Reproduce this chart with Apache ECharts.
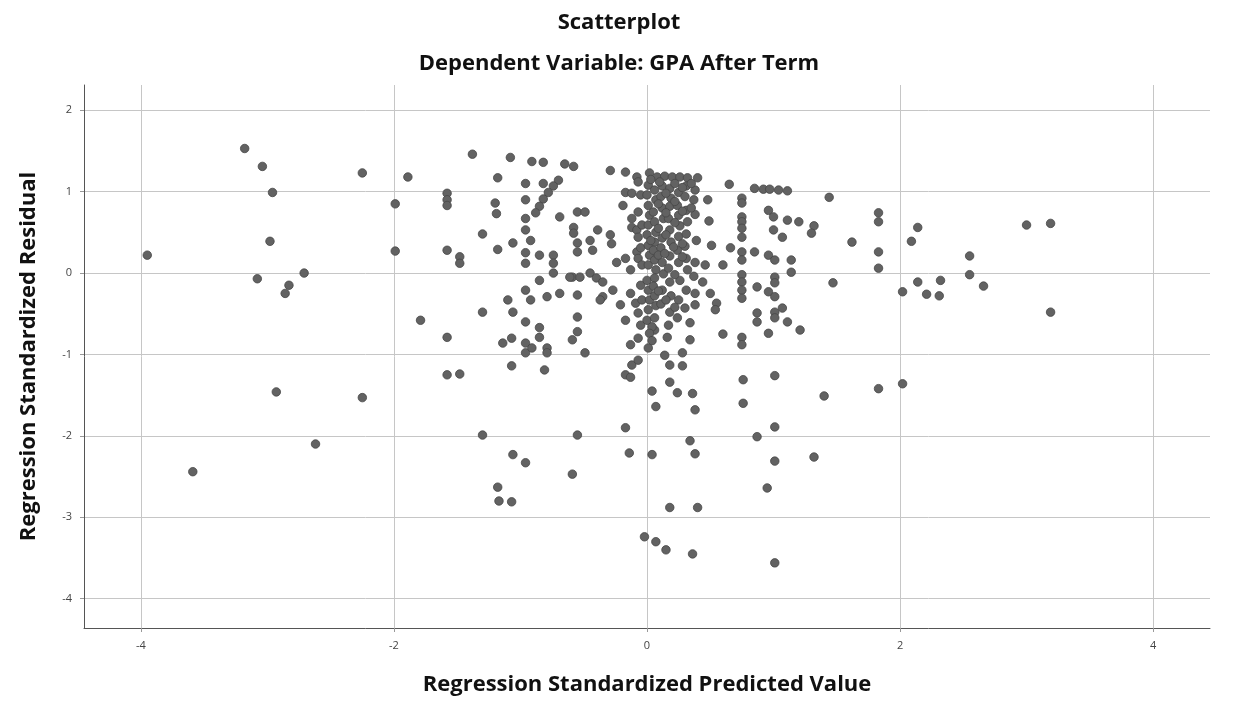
<!DOCTYPE html>
<html>
<head>
<meta charset="utf-8">
<title>Scatterplot</title>
<script src="https://cdn.jsdelivr.net/npm/echarts@6/dist/echarts.min.js"></script>
<style>
  html, body { margin: 0; padding: 0; background: #fff; }
  #chart { width: 1238px; height: 713px; }
</style>
</head>
<body>
<div id="chart"></div>
<script>
// standardized predicted value (x), standardized residual (y)
var leftPoints = [
  [-3.95, 0.22], [-3.59, -2.44], [-3.18, 1.53], [-3.04, 1.31], [-2.96, 0.99], [-2.98, 0.39],
  [-3.08, -0.07], [-2.86, -0.25], [-2.83, -0.15], [-2.71, 0.0], [-2.93, -1.46], [-2.62, -2.10],
  [-2.25, 1.23], [-2.25, -1.53], [-1.99, 0.85], [-1.99, 0.27], [-1.89, 1.18], [-1.79, -0.58],
  [-1.58, 0.98], [-1.58, 0.90], [-1.58, 0.83], [-1.58, 0.28], [-1.58, -0.79], [-1.58, -1.25],
  [-1.48, -1.24], [-1.48, 0.20], [-1.48, 0.12], [-1.38, 1.46], [-1.30, 0.48], [-1.30, -0.48],
  [-1.30, -1.99], [-1.20, 0.86], [-1.18, 1.17], [-1.19, 0.73], [-1.18, 0.29], [-1.18, -2.63],
  [-1.17, -2.80], [-1.08, 1.42], [-1.06, -2.23], [-1.07, -2.81], [-0.96, -2.33], [-1.07, -1.14],
  [-1.10, -0.33], [-1.06, 0.37], [-1.06, -0.48], [-1.14, -0.86], [-1.07, -0.80]
];
var midLeftPoints = [
  [-0.91, 1.37], [-0.82, 1.36], [-0.65, 1.34], [-0.58, 1.31], [-0.96, 1.10], [-0.82, 1.10],
  [-0.70, 1.14], [-0.74, 1.07], [-0.78, 0.99], [-0.82, 0.91], [-0.85, 0.82], [-0.88, 0.74],
  [-0.96, 0.90], [-0.69, 0.69], [-0.58, 0.56], [-0.58, 0.49], [-0.55, 0.37], [-0.55, 0.26],
  [-0.96, 0.67], [-0.96, 0.53], [-0.92, 0.40], [-0.96, 0.25], [-0.96, 0.12], [-0.85, 0.22],
  [-0.74, 0.22], [-0.74, 0.12], [-0.96, -0.21], [-0.92, -0.33], [-0.85, -0.09], [-0.74, 0.0],
  [-0.59, -0.05], [-0.79, -0.29], [-0.69, -0.25], [-0.55, -0.27], [-0.96, -0.60], [-0.85, -0.67],
  [-0.55, -0.54], [-0.96, -0.86], [-0.96, -0.98], [-0.91, -0.92], [-0.85, -0.79], [-0.79, -0.92],
  [-0.79, -0.98], [-0.59, -0.82], [-0.55, -0.72], [-0.81, -1.19], [-0.55, -1.99], [-0.59, -2.47],
  [-0.49, -0.98], [-0.55, 0.75], [-0.49, 0.75], [-0.45, 0.40], [-0.43, 0.28], [-0.61, -0.05],
  [-0.53, -0.05], [-0.45, 0.0], [-0.40, -0.06], [-0.35, -0.11], [-0.35, -0.29], [-0.39, 0.53],
  [-0.37, -0.33]
];
var centerPoints = [
  [-0.29, 1.26], [-0.17, 1.24], [-0.08, 1.18], [-0.07, 1.12], [0.02, 1.23], [0.08, 1.18],
  [0.14, 1.19], [0.20, 1.18], [0.26, 1.18], [0.32, 1.17], [0.40, 1.17], [-0.17, 0.99],
  [-0.12, 0.98], [-0.19, 0.83], [-0.07, 0.75], [-0.29, 0.47], [-0.12, 0.67], [-0.12, 0.56],
  [-0.08, 0.53], [-0.07, 0.44], [-0.17, 0.18], [-0.13, 0.04], [-0.08, 0.26], [-0.07, 0.18],
  [-0.13, -0.25], [-0.09, -0.37], [-0.07, -0.49], [-0.17, -0.58], [-0.28, 0.36], [-0.24, 0.13],
  [-0.27, -0.21], [-0.21, -0.39],
  [-0.05, 0.96], [-0.04, 0.59], [-0.05, 0.31], [-0.04, 0.10], [-0.05, -0.15], [-0.04, -0.33], [-0.05, -0.64],
  [0.01, 1.08], [0.00, 0.96], [0.01, 0.83], [0.02, 0.71], [0.01, 0.59], [0.00, 0.47], [0.01, 0.34],
  [0.02, 0.22], [0.01, 0.10], [0.00, -0.09], [0.01, -0.21], [0.02, -0.33], [0.01, -0.45], [0.00, -0.58],
  [0.06, 1.02], [0.07, 0.90], [0.05, 0.75], [0.06, 0.63], [0.07, 0.50], [0.06, 0.38], [0.05, 0.28],
  [0.06, 0.16], [0.07, 0.04], [0.06, -0.06], [0.05, -0.16], [0.06, -0.28], [0.07, -0.40], [0.06, -0.55],
  [0.06, -0.70],
  [0.12, 1.07], [0.11, 0.94], [0.12, 0.80], [0.13, 0.67], [0.12, 0.43], [0.11, 0.31], [0.12, 0.13],
  [0.13, -0.01], [0.12, -0.21], [0.11, -0.38],
  [0.18, 1.04], [0.19, 0.92], [0.18, 0.82], [0.17, 0.67], [0.18, 0.53], [0.19, 0.38], [0.18, 0.21],
  [0.17, 0.06], [0.18, -0.11], [0.19, -0.28], [0.18, -0.48], [0.17, -0.64],
  [0.25, 0.99], [0.24, 0.83], [0.25, 0.71], [0.26, 0.58], [0.25, 0.45], [0.24, 0.28], [0.25, 0.13],
  [0.26, -0.09], [0.25, -0.33], [0.24, -0.55],
  [0.31, 1.07], [0.30, 0.94], [0.31, 0.77], [0.32, 0.63], [0.31, 0.48], [0.30, 0.33], [0.31, 0.18],
  [0.32, 0.04], [0.31, -0.21], [0.30, -0.43],
  [0.38, 1.02], [0.37, 0.90], [0.38, 0.72], [0.39, 0.40], [0.38, 0.13], [0.37, -0.04], [0.38, -0.39],
  [0.03, 1.15], [0.10, 1.12], [0.22, 1.10], [0.28, 1.05], [0.35, 1.10], [0.15, 0.98],
  [0.22, 0.88], [0.09, 0.85], [0.28, 0.76], [0.35, 0.80], [0.15, 0.74], [0.09, 0.55],
  [0.22, 0.62], [0.15, 0.47], [0.28, 0.36], [0.21, 0.32], [0.09, 0.22], [0.14, 0.24],
  [0.03, 0.40], [0.22, -0.02], [0.28, 0.20], [0.09, -0.22], [0.15, -0.33], [0.22, -0.42],
  [0.04, -0.66],
  [-0.07, -0.80], [-0.13, -0.88], [-0.12, -1.13], [-0.07, -1.07], [-0.17, -1.25], [-0.13, -1.28],
  [0.02, -0.74], [0.04, -0.83], [0.01, -0.92], [0.16, -0.79], [0.34, -0.82], [0.14, -1.01],
  [0.18, -1.13], [0.28, -0.98], [0.28, -1.14], [0.18, -1.34], [0.04, -1.45], [0.24, -1.47],
  [0.36, -1.48], [0.07, -1.64], [0.38, -1.68], [-0.17, -1.90], [0.34, -2.06], [0.38, -2.22],
  [-0.14, -2.21], [0.04, -2.23], [0.18, -2.88], [0.40, -2.88], [-0.02, -3.24], [0.07, -3.30],
  [0.15, -3.40], [0.36, -3.45], [0.44, -0.11], [0.38, -0.25], [0.50, -0.25], [0.55, -0.37],
  [0.34, -0.61], [0.49, 0.64], [0.48, 0.90], [0.51, 0.34], [0.46, 0.10], [0.54, -0.45]
];
var rightPoints = [
  [0.60, -0.75], [0.75, -0.79], [0.75, -0.88], [0.76, -1.31], [0.76, -1.60], [0.87, -2.01],
  [1.01, -1.26], [1.40, -1.51], [1.83, -1.42], [1.01, -1.89], [1.01, -2.31], [1.32, -2.26],
  [0.95, -2.64], [1.01, -3.56],
  [0.65, 1.09], [0.85, 1.04], [0.92, 1.03], [0.97, 1.03], [1.04, 1.02], [1.11, 1.01],
  [1.44, 0.93], [0.75, 0.92], [0.75, 0.86], [0.75, 0.69], [0.75, 0.63], [0.75, 0.55],
  [0.75, 0.44], [0.96, 0.77], [1.00, 0.69], [1.11, 0.65], [1.20, 0.63], [1.32, 0.58],
  [1.30, 0.49], [1.00, 0.53], [1.07, 0.44], [1.83, 0.74], [1.83, 0.63], [1.62, 0.38],
  [0.66, 0.31], [0.75, 0.26], [0.75, 0.16], [0.85, 0.26], [0.96, 0.22], [1.01, 0.16],
  [1.14, 0.16], [1.14, 0.01], [1.83, 0.26], [1.83, 0.06], [0.60, 0.10], [0.75, -0.02],
  [0.75, -0.11], [0.75, -0.21], [0.75, -0.31], [1.01, -0.05], [1.01, -0.12], [0.87, -0.17],
  [0.96, -0.23], [1.01, -0.29], [1.47, -0.12], [0.87, -0.49], [0.87, -0.60], [1.01, -0.48],
  [1.07, -0.43], [1.01, -0.55], [1.11, -0.60], [1.21, -0.70], [0.96, -0.74]
];
var farRightPoints = [
  [2.14, 0.56], [2.09, 0.39], [2.55, 0.21], [2.55, -0.02], [2.32, -0.09], [2.14, -0.11],
  [2.02, -0.23], [2.21, -0.26], [2.31, -0.28], [2.66, -0.16], [3.00, 0.59], [3.19, 0.61],
  [3.19, -0.48], [2.02, -1.36]
];
var xTicks = [-4, -2, 0, 2, 4];
var yTicks = [-4, -3, -2, -1, 0, 1, 2];

var allPoints = [].concat(leftPoints, midLeftPoints, centerPoints, rightPoints, farRightPoints);

var myChart = echarts.init(document.getElementById("chart"));
var font = "'Open Sans', 'DejaVu Sans', sans-serif";
var titleStyle = { fontFamily: font, fontSize: 22, fontWeight: "bold", color: "#111" };

myChart.setOption({
  animation: false,
  backgroundColor: "#fff",
  title: [
    { text: "Scatterplot", left: "center", top: 7, textStyle: titleStyle },
    { text: "Dependent Variable: GPA After Term", left: "center", top: 48, textStyle: titleStyle }
  ],
  grid: { left: 84, right: 28, top: 85, bottom: 85 },
  xAxis: {
    type: "value",
    min: -4.45,
    max: 4.45,
    name: "Regression Standardized Predicted Value",
    nameLocation: "middle",
    nameGap: 46,
    nameTextStyle: titleStyle,
    axisLine: { show: true, onZero: false, lineStyle: { color: "#555", width: 1 } },
    axisTick: { show: true, customValues: xTicks, length: 4, lineStyle: { color: "#999" } },
    axisLabel: { customValues: xTicks, margin: 12, fontFamily: font, fontSize: 11, color: "#444" },
    splitLine: { show: true, lineStyle: { color: "#c6c6c6", width: 1 } }
  },
  yAxis: {
    type: "value",
    min: -4.36,
    max: 2.31,
    name: "Regression Standardized Residual",
    nameLocation: "middle",
    nameGap: 44,
    nameTextStyle: titleStyle,
    axisLine: { show: true, onZero: false, lineStyle: { color: "#555", width: 1 } },
    axisTick: { show: true, customValues: yTicks, length: 4, lineStyle: { color: "#999" } },
    axisLabel: { customValues: yTicks, margin: 12, fontFamily: font, fontSize: 11, color: "#444" },
    splitLine: { show: true, lineStyle: { color: "#c6c6c6", width: 1 } }
  },
  series: [
    {
      type: "scatter",
      data: allPoints,
      symbol: "circle",
      symbolSize: 8.5,
      itemStyle: { color: "#626262", borderColor: "#464646", borderWidth: 0.8, opacity: 1 }
    }
  ]
});
</script>
</body>
</html>
